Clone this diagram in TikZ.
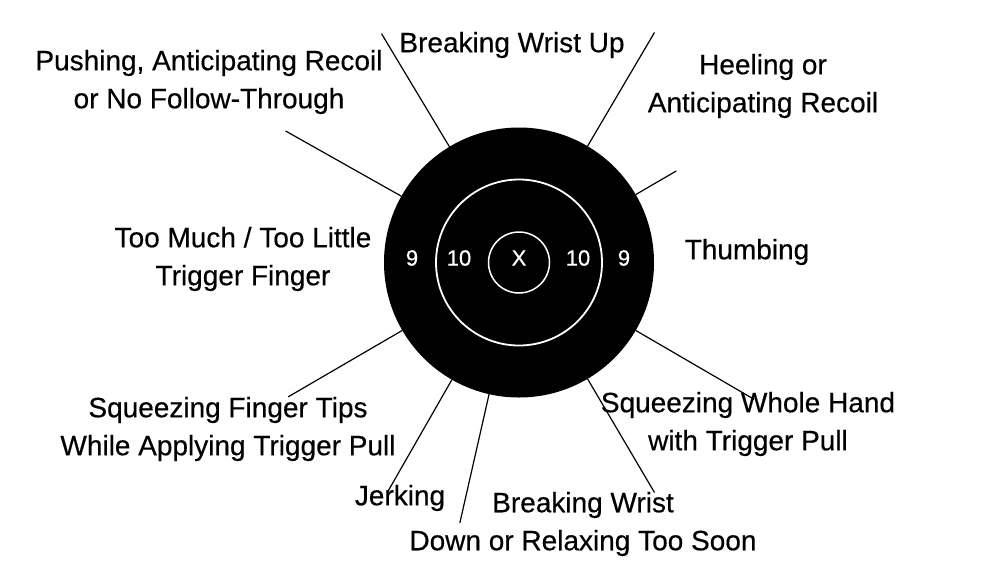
\documentclass[tikz,border=0pt]{standalone}
\usepackage{fontspec}
\setmainfont[FakeBold=0.4]{Liberation Sans}
\usetikzlibrary{calc}
\begin{document}
\begin{tikzpicture}[x=1pt,y=-1pt,
  lbl/.style={align=center,inner sep=0pt,font=\fontsize{28}{38}\selectfont},
  num/.style={text=white,inner sep=0pt,font=\fontsize{22}{22}\selectfont},
  ray/.style={draw=black,line width=1.2pt}]
\useasboundingbox[fill=white] (0,0) rectangle (982,587);
% target
\coordinate (c) at (519,262.5);
\fill[black] (c) circle[radius=135];
\draw[white,line width=1.8pt] (c) circle[radius=83];
\draw[white,line width=1.5pt] (c) circle[radius=30.5];
\node[num] (n9l) at (412,258) {9};
\node[num] (n10l) at (459,258) {10};
\node[num] (nx) at (519,258) {X};
\node[num] (n10r) at (578,258) {10};
\node[num] (n9r) at (624,258) {9};
% labels
\node[lbl] (bwu) at (512,45) {Breaking Wrist Up};
\node[lbl] (push) at (209,82) {Pushing, Anticipating Recoil\\or No Follow-Through};
\node[lbl] (heel) at (763,86) {Heeling or\\Anticipating Recoil};
\node[lbl] (much) at (243,259) {Too Much / Too Little\\Trigger Finger};
\node[lbl] (thumb) at (747,252) {Thumbing};
\node[lbl] (tips) at (228,429) {Squeezing Finger Tips\\While Applying Trigger Pull};
\node[lbl] (whole) at (748,424) {Squeezing Whole Hand\\with Trigger Pull};
\node[lbl] (jerk) at (400,498) {Jerking};
\node[lbl] (down) at (583,524) {Breaking Wrist\\Down or Relaxing Too Soon};
% rays
\foreach \a/\r/\n in {121/267/a, 59.5/267/b, 150.6/268/c, 30.2/182/d, 210.2/267/e, 329.8/272/f, 300.5/267/g, 240.2/265/h, 257.2/267/i}{
  \coordinate (s\n) at ($(c)+(\a:135pt)$);
  \coordinate (e\n) at ($(c)+(\a:\r pt)$);
  \draw[ray] (s\n) -- (e\n);
}
\end{tikzpicture}
\end{document}
